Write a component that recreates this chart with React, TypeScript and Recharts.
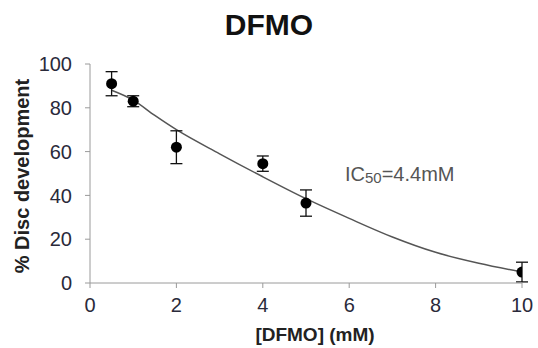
import React from "react";
import { ComposedChart, Scatter, Line, XAxis, YAxis, ErrorBar } from "recharts";

const doseX = [0.5, 1, 2, 4, 5, 10];
const discY = [91, 83, 62, 54.5, 36.5, 5];
const discErr = [5.5, 2.5, 7.5, 3.5, 6, 4.5];

const fitX = [0.5, 1, 1.5, 2, 3, 4, 5, 6, 7, 8, 9, 10];
const fitY = [88, 83.5, 76.5, 70, 59, 48.5, 38.5, 29.5, 21, 14, 9, 5];

const xTicks = [0, 2, 4, 6, 8, 10];
const yTicks = [0, 20, 40, 60, 80, 100];

const points = doseX.map((x, i) => ({ x, y: discY[i], err: discErr[i] }));
const fit = fitX.map((x, i) => ({ x, fy: fitY[i] }));

const FONT = "'Liberation Sans', Arial, sans-serif";

const Dot = (props: any) => {
  const { cx, cy } = props;
  if (cx == null || cy == null) return null;
  return <circle cx={cx} cy={cy} r={5.5} fill="#000" />;
};

export default function App() {
  return (
    <div style={{ position: "absolute", left: 0, top: 0, width: 538, height: 348, background: "#fff" }}>
      <ComposedChart
        width={538}
        height={348}
        margin={{ top: 64, right: 16, bottom: 35, left: 30 }}
      >
        <XAxis
          dataKey="x"
          type="number"
          domain={[0, 10]}
          ticks={xTicks}
          allowDataOverflow
          stroke="#9a9a9a"
          tickSize={5}
          tickMargin={10}
          height={30}
          tick={{ fill: "#2a2a3a", fontSize: 20, fontFamily: FONT }}
        />
        <YAxis
          type="number"
          domain={[0, 100]}
          ticks={yTicks}
          width={60}
          stroke="#9a9a9a"
          tickSize={5}
          tickMargin={13}
          tick={{ fill: "#2a2a3a", fontSize: 20, fontFamily: FONT }}
        />
        <Line
          data={fit}
          dataKey="fy"
          type="monotone"
          stroke="#555"
          strokeWidth={1.5}
          dot={false}
          activeDot={false}
          isAnimationActive={false}
        />
        <Scatter data={points} dataKey="y" shape={<Dot />} isAnimationActive={false}>
          <ErrorBar dataKey="err" direction="y" width={6} stroke="#111" strokeWidth={1.3} />
        </Scatter>
      </ComposedChart>
      <svg
        width={538}
        height={348}
        style={{ position: "absolute", left: 0, top: 0, pointerEvents: "none" }}
      >
        <text x={269} y={35} textAnchor="middle" fontFamily={FONT} fontWeight="bold" fontSize={30} fill="#111">
          DFMO
        </text>
        <text
          transform="translate(29,176) rotate(-90)"
          textAnchor="middle"
          fontFamily={FONT}
          fontWeight="bold"
          fontSize={20}
          fill="#222"
        >
          % Disc development
        </text>
        <text x={315} y={341} textAnchor="middle" fontFamily={FONT} fontWeight="bold" fontSize={19} fill="#222">
          [DFMO] (mM)
        </text>
        <text x={345} y={181} fontFamily={FONT} fontSize={20} fill="#555">
          IC<tspan fontSize={15} dy={2}>50</tspan><tspan dy={-2}>=4.4mM</tspan>
        </text>
      </svg>
    </div>
  );
}
